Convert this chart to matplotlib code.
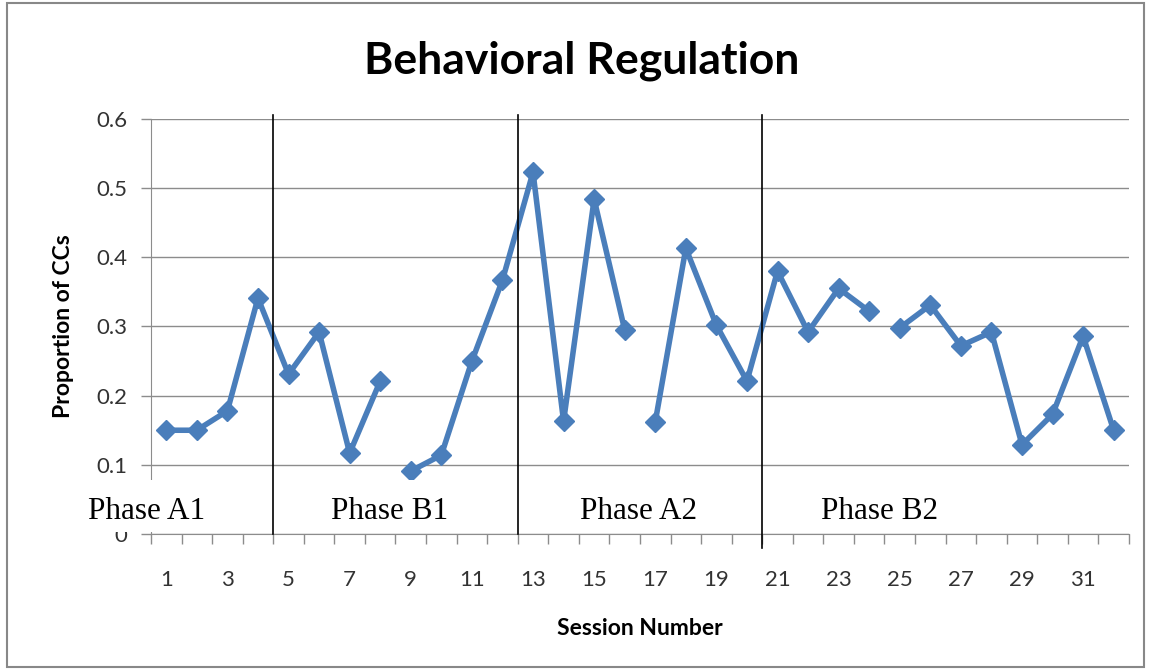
import numpy as np
import matplotlib
matplotlib.use("Agg")
import matplotlib.pyplot as plt
from matplotlib.patches import Rectangle

# session data
sessions = list(range(1, 33))
proportion = [0.150, 0.150, 0.178, 0.341, 0.231, 0.292, 0.117, 0.221,
              0.091, 0.114, 0.250, 0.367, 0.523, 0.163, 0.484, 0.295,
              0.162, 0.413, 0.302, 0.221, 0.380, 0.292, 0.355, 0.322,
              0.298, 0.331, 0.272, 0.292, 0.129, 0.173, 0.286, 0.150]
# line is broken after these sessions
breaks_after = [8, 16, 24]
phase_bounds = [4.5, 12.5, 20.5]
phase_names = ["Phase A1", "Phase B1", "Phase A2", "Phase B2"]
phase_label_x = [0.37, 8.29, 16.44, 24.35]
y_ticks = [0, 0.1, 0.2, 0.3, 0.4, 0.5, 0.6]

blue = "#4a7ebb"
grey = "#8c8c8c"
sans = ["Lato", "DejaVu Sans"]

fig = plt.figure(figsize=(11.5, 6.7), dpi=100)
ax = fig.add_axes([0.1313, 0.2030, 0.8504, 0.6194])

# draw the series in runs
starts = [1] + [b + 1 for b in breaks_after]
ends = breaks_after + [32]
for s, e in zip(starts, ends):
    xs = sessions[s - 1:e]
    ys = proportion[s - 1:e]
    ax.plot(xs, ys, color=blue, lw=4, marker="D", ms=10,
            solid_joinstyle="round", zorder=4)

ax.set_xlim(0.5, 32.5)
ax.set_ylim(0, 0.6)
ax.set_yticks(y_ticks)
ax.set_yticklabels(["0", "0.1", "0.2", "0.3", "0.4", "0.5", "0.6"],
                   fontsize=16, family=sans, color="#333333")
ax.set_xticks(sessions[::2])
ax.set_xticklabels([str(s) for s in sessions[::2]], fontsize=16,
                   family=sans, color="#333333")
ax.set_xticks(np.arange(0.5, 33, 1), minor=True)
ax.tick_params(axis="x", which="major", length=0, pad=26)
ax.tick_params(axis="x", which="minor", length=7, color=grey, width=1)
ax.tick_params(axis="y", length=7, color=grey, width=1, pad=10)

ax.grid(axis="y", color=grey, lw=1)
ax.set_axisbelow(True)
for side in ["top", "right"]:
    ax.spines[side].set_visible(False)
for side in ["left", "bottom"]:
    ax.spines[side].set_color(grey)

# white box holding the phase labels
ax.add_patch(Rectangle((-1.8, 0.003), 34.3, 0.075, facecolor="white",
                       edgecolor="none", transform=ax.transData,
                       clip_on=False, zorder=5))
for i, b in enumerate(phase_bounds):
    ymin = -0.02 if i == 2 else 0
    ax.plot([b, b], [ymin, 0.606], color="black", lw=1.2, clip_on=False,
            zorder=6)
for name, px in zip(phase_names, phase_label_x):
    ax.text(px, 0.033, name, fontsize=22.5, family="Liberation Serif",
            ha="center", va="center", zorder=7)

ax.set_xlabel("Session Number", fontsize=16.5, fontweight="bold",
              family=sans, labelpad=20)
ax.set_ylabel("Proportion of CCs", fontsize=16.5, fontweight="bold",
              family=sans, labelpad=16)
fig.text(0.506, 0.91, "Behavioral Regulation", fontsize=32,
         fontweight="bold", family=sans, ha="center", va="center")

# chart border
fig.patches.append(Rectangle((0.006, 0.005), 0.989, 0.99,
                             transform=fig.transFigure, fill=False,
                             edgecolor="#888888", lw=1.5))

fig.savefig("out.png", dpi=100)
